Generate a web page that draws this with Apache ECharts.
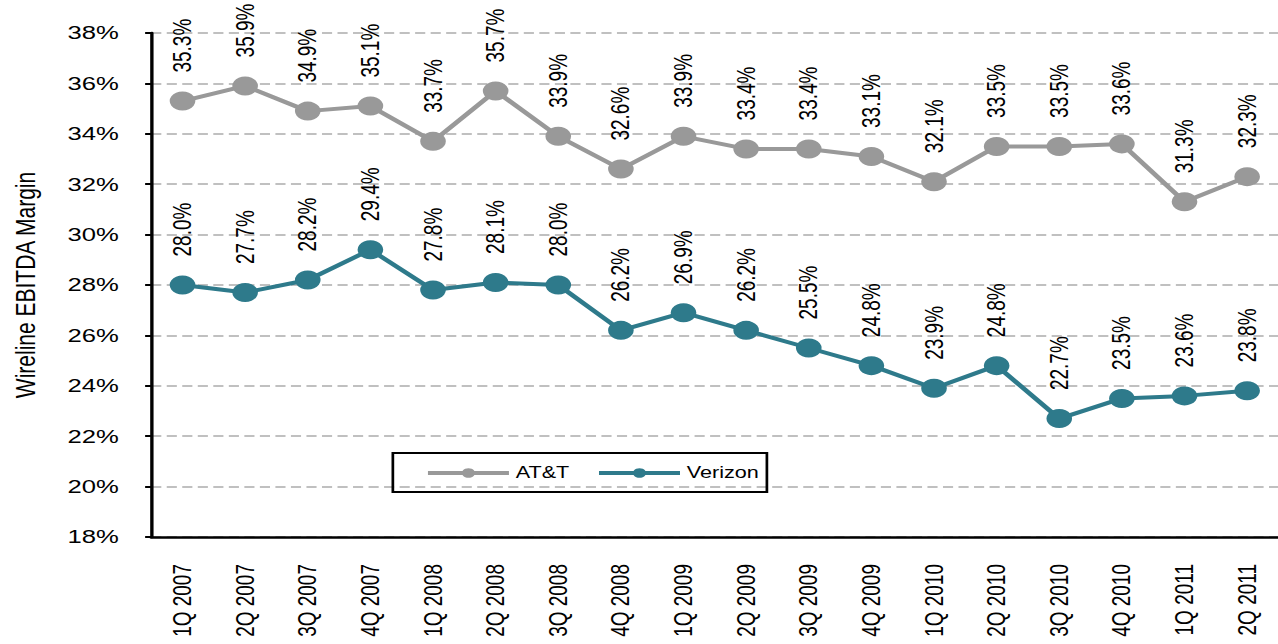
<!DOCTYPE html>
<html>
<head>
<meta charset="utf-8">
<script src="https://cdn.jsdelivr.net/npm/echarts@6/dist/echarts.min.js"></script>
<style>
  html, body { margin: 0; padding: 0; background: #fff; overflow: hidden; }
  /* the reference is stretched sideways, so draw narrow and stretch */
  #main { width: 947px; height: 644px; transform: scaleX(1.35); transform-origin: 0 0; }
</style>
</head>
<body>
<div id="main"></div>
<script>
var categories = ['1Q 2007', '2Q 2007', '3Q 2007', '4Q 2007', '1Q 2008', '2Q 2008', '3Q 2008', '4Q 2008',
  '1Q 2009', '2Q 2009', '3Q 2009', '4Q 2009', '1Q 2010', '2Q 2010', '3Q 2010', '4Q 2010', '1Q 2011', '2Q 2011'];
var att = [35.3, 35.9, 34.9, 35.1, 33.7, 35.7, 33.9, 32.6, 33.9, 33.4, 33.4, 33.1, 32.1, 33.5, 33.5, 33.6, 31.3, 32.3];
var verizon = [28.0, 27.7, 28.2, 29.4, 27.8, 28.1, 28.0, 26.2, 26.9, 26.2, 25.5, 24.8, 23.9, 24.8, 22.7, 23.5, 23.6, 23.8];

var FONT = "'Liberation Sans', Arial, sans-serif";
var chart = echarts.init(document.getElementById('main'), null, { renderer: 'svg' });

function lineSeries(name, data, color) {
  return {
    name: name,
    type: 'line',
    data: data,
    symbol: 'circle',
    symbolSize: 19,
    lineStyle: { color: color, width: 4 },
    itemStyle: { color: color },
    label: {
      show: true,
      position: 'top',
      distance: 19,
      rotate: 90,
      align: 'left',
      verticalAlign: 'middle',
      color: '#000',
      fontFamily: FONT,
      fontSize: 19,
      formatter: function(p) { return p.value.toFixed(1) + '%'; }
    },
    emphasis: { disabled: true }
  };
}

chart.setOption({
  animation: false,
  grid: { left: 111, top: 33, width: 846, height: 504 },
  legend: {
    left: 291,
    top: 453,
    data: ['AT&T', 'Verizon'],
    itemWidth: 60,
    itemHeight: 12,
    itemGap: 20,
    padding: [12, 6, 11, 24],
    borderColor: '#000',
    borderWidth: 2,
    lineStyle: { width: 4 },
    textStyle: { fontFamily: FONT, fontSize: 16, color: '#000' }
  },
  xAxis: {
    type: 'category',
    data: categories,
    axisLine: { lineStyle: { color: '#000', width: 2.5 } },
    axisTick: { length: 5, lineStyle: { color: '#000', width: 2 } },
    axisLabel: { rotate: 90, interval: 0, margin: 27, color: '#000', fontFamily: FONT, fontSize: 19 }
  },
  yAxis: {
    type: 'value',
    min: 18,
    max: 38,
    interval: 2,
    name: 'Wireline EBITDA Margin',
    nameLocation: 'middle',
    nameGap: 83,
    nameTextStyle: { color: '#000', fontFamily: FONT, fontSize: 21 },
    axisLine: { show: true, lineStyle: { color: '#000', width: 2.5 } },
    axisTick: { show: true, length: 4.5, lineStyle: { color: '#000', width: 2 } },
    axisLabel: { margin: 24, color: '#000', fontFamily: FONT, fontSize: 19, formatter: '{value}%' },
    splitLine: { lineStyle: { color: '#c0c0c0', width: 2, type: [7.5, 4] } }
  },
  series: [
    lineSeries('AT&T', att, '#999999'),
    lineSeries('Verizon', verizon, '#2e7a8b')
  ]
});
</script>
</body>
</html>
